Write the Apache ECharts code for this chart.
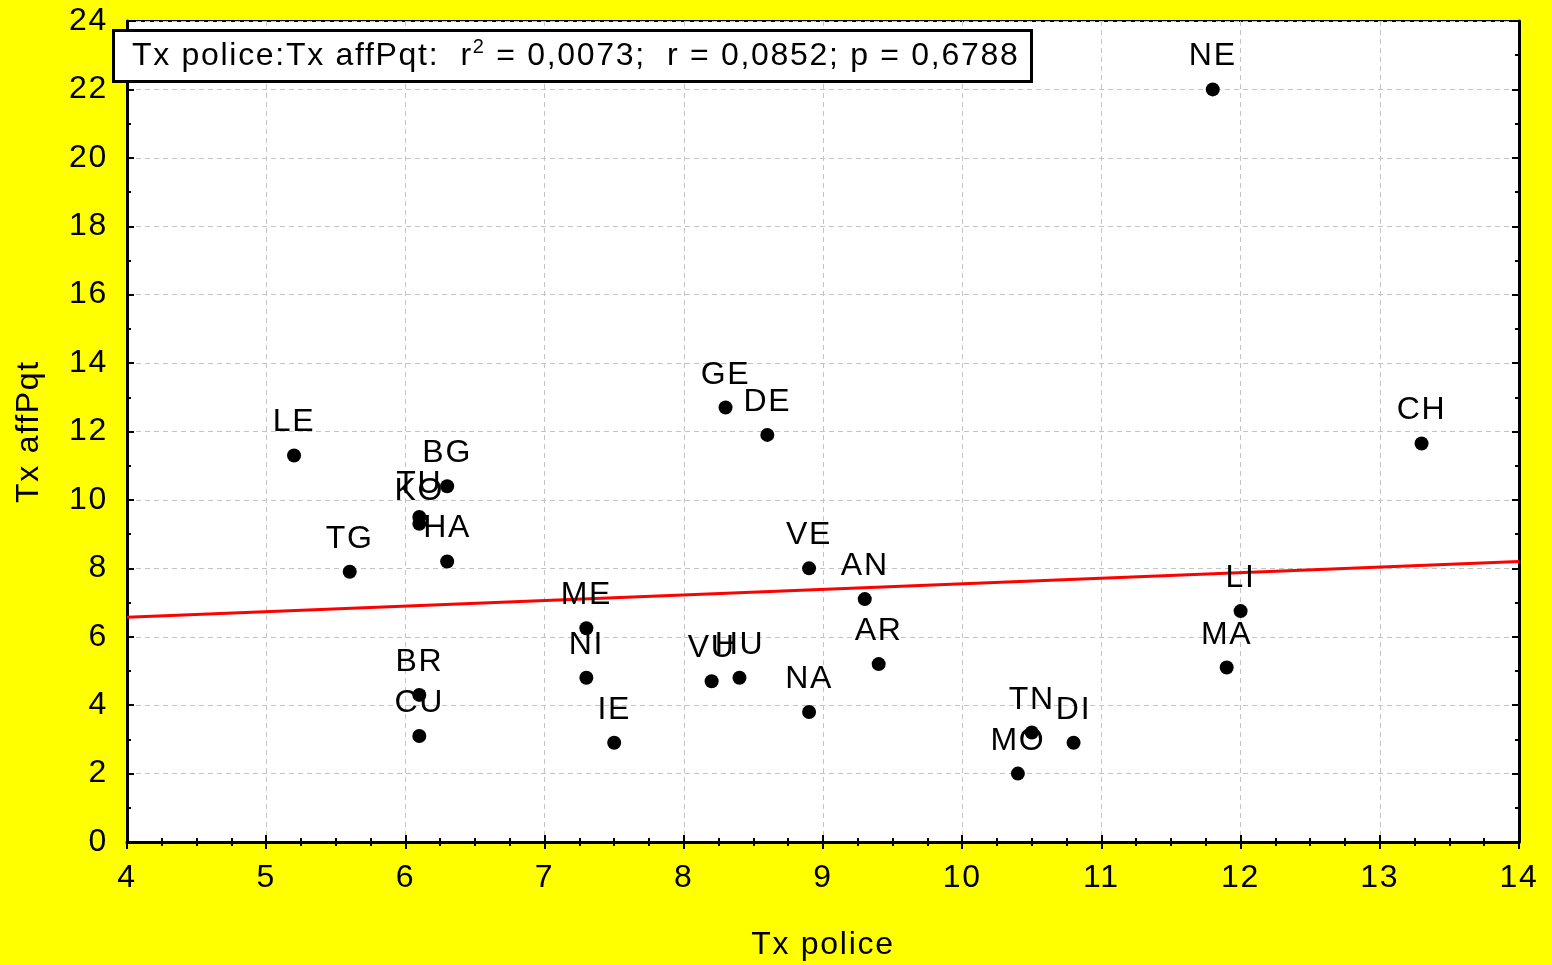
<!DOCTYPE html>
<html>
<head>
<meta charset="utf-8">
<title>Tx police vs Tx affPqt</title>
<script src="https://cdn.jsdelivr.net/npm/echarts@6/dist/echarts.min.js"></script>
<style>
  html, body { margin: 0; padding: 0; background: #ffff00; }
  #chart { width: 1552px; height: 965px; }
</style>
</head>
<body>
<div id="chart"></div>
<script>
// country codes and values
const codes = ['NE', 'CH', 'LE', 'BG', 'TU', 'KO', 'HA', 'TG', 'BR', 'CU', 'GE', 'DE', 'VE', 'AN', 'AR',
  'ME', 'NI', 'IE', 'VU', 'HU', 'NA', 'MO', 'TN', 'DI', 'LI', 'MA']
const txPolice = [11.8, 13.3, 5.2, 6.3, 6.1, 6.1, 6.3, 5.6, 6.1, 6.1, 8.3, 8.6, 8.9, 9.3, 9.4,
  7.3, 7.3, 7.5, 8.2, 8.4, 8.9, 10.4, 10.5, 10.8, 12.0, 11.9]
const txAffPqt = [22.0, 11.65, 11.3, 10.4, 9.5, 9.3, 8.2, 7.9, 4.3, 3.1, 12.7, 11.9, 8.0, 7.1, 5.2,
  6.25, 4.8, 2.9, 4.7, 4.8, 3.8, 2.0, 3.2, 2.9, 6.75, 5.1]
const xTicks = [4, 14, 1]
const yTicks = [0, 24, 2]
const statsText = 'Tx police:Tx affPqt:  r{sup|2} = 0,0073;  r = 0,0852; p = 0,6788'

const font = '"Liberation Sans", Arial, sans-serif'

// the original text is slightly letter-spaced, canvas can do that
const fontDesc = Object.getOwnPropertyDescriptor(CanvasRenderingContext2D.prototype, 'font')
if (fontDesc && 'letterSpacing' in CanvasRenderingContext2D.prototype) {
  Object.defineProperty(CanvasRenderingContext2D.prototype, 'font', {
    configurable: true,
    get() { return fontDesc.get.call(this) },
    set(v) {
      fontDesc.set.call(this, v)
      this.letterSpacing = '1.7px'
    }
  })
}

// least squares fit of the points
function fitLine(xs, ys) {
  const n = xs.length
  const mx = xs.reduce((a, b) => a + b, 0) / n
  const my = ys.reduce((a, b) => a + b, 0) / n
  let sxy = 0
  let sxx = 0
  for (let i = 0; i < n; i++) {
    sxy += (xs[i] - mx) * (ys[i] - my)
    sxx += (xs[i] - mx) * (xs[i] - mx)
  }
  const b = sxy / sxx
  return { a: my - b * mx, b: b }
}
const fit = fitLine(txPolice, txAffPqt)
const fitData = [xTicks[0], xTicks[1]].map(x => [x, fit.a + fit.b * x])

const points = codes.map((c, i) => ({ name: c, value: [txPolice[i], txAffPqt[i]] }))

const myChart = echarts.init(document.getElementById('chart'))

const tickStyle = { show: true, inside: true, length: 7, lineStyle: { color: '#000', width: 2 } }
const minorStyle = { show: true, length: 4, lineStyle: { color: '#000', width: 2 } }

myChart.setOption({
  backgroundColor: '#ffff00',
  animation: false,
  textStyle: { fontFamily: font },
  title: {
    text: statsText,
    left: 113,
    top: 30,
    padding: [6, 12, 6, 19],
    backgroundColor: '#fff',
    borderColor: '#000',
    borderWidth: 3,
    textStyle: {
      fontFamily: font,
      fontSize: 32,
      fontWeight: 'normal',
      color: '#000',
      lineHeight: 40,
      rich: {
        sup: { fontSize: 20, fontFamily: font, color: '#000', padding: [0, 0, 18, 0] }
      }
    }
  },
  grid: {
    left: 127,
    right: 33,
    top: 21,
    bottom: 123,
    outerBoundsMode: 'none',
    containLabel: false,
    show: true,
    backgroundColor: '#fff',
    borderColor: '#000',
    borderWidth: 2
  },
  xAxis: [{
    type: 'value',
    min: xTicks[0],
    max: xTicks[1],
    interval: xTicks[2],
    name: 'Tx police',
    nameLocation: 'middle',
    nameGap: 86,
    nameTextStyle: { fontSize: 32, color: '#000', fontFamily: font },
    axisLine: { show: true, lineStyle: { color: '#000', width: 3 } },
    axisTick: tickStyle,
    minorTick: Object.assign({ splitNumber: 4 }, minorStyle),
    axisLabel: { fontSize: 32, color: '#000', margin: 19, fontFamily: font },
    splitLine: { show: true, lineStyle: { color: '#c4c4c4', type: [5, 4], width: 1 } }
  }, {
    type: 'value',
    position: 'top',
    min: xTicks[0],
    max: xTicks[1],
    interval: xTicks[2],
    axisLine: { show: true, lineStyle: { color: '#000', width: 2 } },
    axisTick: tickStyle,
    minorTick: Object.assign({ splitNumber: 4 }, minorStyle),
    axisLabel: { show: false },
    splitLine: { show: false }
  }],
  yAxis: [{
    type: 'value',
    min: yTicks[0],
    max: yTicks[1],
    interval: yTicks[2],
    name: 'Tx affPqt',
    nameLocation: 'middle',
    nameGap: 81,
    nameTextStyle: { fontSize: 32, color: '#000', fontFamily: font },
    axisLine: { show: true, lineStyle: { color: '#000', width: 3 } },
    axisTick: tickStyle,
    minorTick: Object.assign({ splitNumber: 2 }, minorStyle),
    axisLabel: { fontSize: 32, color: '#000', margin: 19, fontFamily: font },
    splitLine: { show: true, lineStyle: { color: '#c4c4c4', type: [5, 4], width: 1 } }
  }, {
    type: 'value',
    position: 'right',
    min: yTicks[0],
    max: yTicks[1],
    interval: yTicks[2],
    axisLine: { show: true, lineStyle: { color: '#000', width: 3 } },
    axisTick: tickStyle,
    minorTick: Object.assign({ splitNumber: 2 }, minorStyle),
    axisLabel: { show: false },
    splitLine: { show: false }
  }],
  series: [{
    name: 'fit',
    type: 'line',
    data: fitData,
    symbol: 'none',
    silent: true,
    lineStyle: { color: '#ff0000', width: 3 },
    z: 3
  }, {
    name: 'points',
    type: 'scatter',
    data: points,
    symbol: 'circle',
    symbolSize: 14,
    itemStyle: { color: '#000', opacity: 1 },
    label: {
      show: true,
      position: 'top',
      distance: 9,
      formatter: '{b}',
      fontSize: 32,
      color: '#000',
      fontFamily: font
    },
    z: 4
  }]
})
</script>
</body>
</html>
